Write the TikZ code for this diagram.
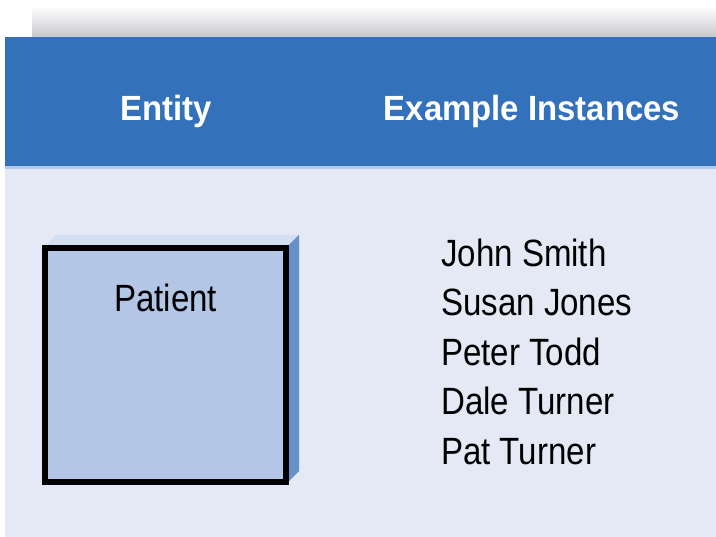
\documentclass[tikz,border=0pt]{standalone}
\usepackage{fontspec}
\setmainfont{Liberation Sans}
\newfontfamily\headfont[FakeStretch=0.94]{Liberation Sans}
\newfontfamily\namefont[FakeStretch=0.87]{Liberation Sans}
\usetikzlibrary{positioning, calc}
\definecolor{headblue}{RGB}{52,113,187}
\definecolor{bodybg}{RGB}{228,233,245}
\definecolor{boxfront}{RGB}{180,198,230}
\definecolor{boxtop}{RGB}{212,223,241}
\definecolor{boxside}{RGB}{104,144,200}
\definecolor{stripgray}{RGB}{200,201,207}
\definecolor{seamblue}{RGB}{178,199,231}

\begin{document}
\begin{tikzpicture}[
  x=1pt, y=-1pt,
  head/.style={font=\headfont\bfseries\fontsize{35}{40}\selectfont,
               text=white, anchor=base, inner sep=0pt},
  entity/.style={rectangle, draw=black, line width=4pt, fill=boxfront,
                 minimum width=239pt, minimum height=232pt, inner sep=0pt},
  inst/.style={font=\namefont\fontsize{38}{46}\selectfont,
               anchor=base west, inner sep=0pt},
]
  \useasboundingbox (0,0) rectangle (716,537);

  % panels
  \shade[top color=white, bottom color=stripgray] (32,6) rectangle (720,37);
  \fill[bodybg] (5,168) rectangle (720,540);
  \fill[headblue] (5,37) rectangle (720,167);
  \fill[seamblue] (5,166) rectangle (720,169);

  \node[head] (enthead) at (166,121) {Entity};
  \node[head] (insthead) at (532,121) {Example Instances};

  % entity box with its depth faces
  \node[entity] (patient) at (165.5,365) {};
  \fill[boxtop] (patient.north west) -- ++(12,-12) -- ($(patient.north east)+(12,-12)$)
    -- (patient.north east) -- cycle;
  \fill[boxside] (patient.north east) -- ++(12,-12) -- ($(patient.south east)+(12,-12)$)
    -- (patient.south east) -- cycle;
  \draw[line width=4pt] (patient.north west) rectangle (patient.south east);
  \node[inst, anchor=base] (patientlbl) at ($(patient.north)+(0,65)$) {Patient};

  \node[inst] (n1) at (441,267) {John Smith};
  \node[inst] (n2) at (441,316) {Susan Jones};
  \node[inst] (n3) at (441,365.5) {Peter Todd};
  \node[inst] (n4) at (441,415) {Dale Turner};
  \node[inst] (n5) at (441,465) {Pat Turner};
\end{tikzpicture}
\end{document}
